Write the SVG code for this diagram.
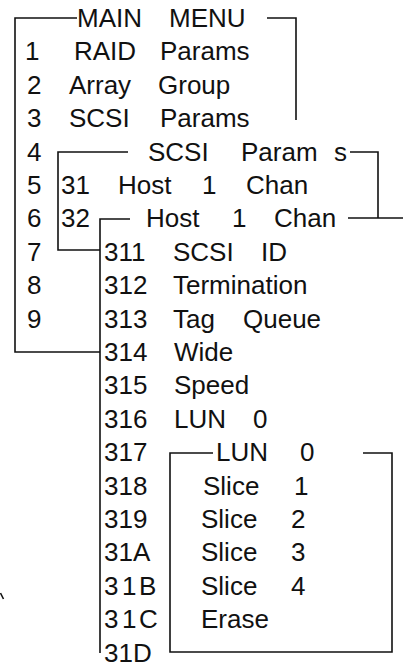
<svg xmlns="http://www.w3.org/2000/svg" width="403" height="668" viewBox="0 0 403 668">
<style>
  text { font-family: "Liberation Sans", Arial, sans-serif; font-size: 26px; fill: #111; }
  .ln { fill: none; stroke: #111; stroke-width: 1.6; }
</style>
<rect width="403" height="668" fill="#fff"/>
<g id="connectors">
  <polyline class="ln" points="77,18 15,18 15,352 100,352"/>
  <polyline class="ln" points="267,18 296,18 296,120"/>
  <polyline class="ln" points="128,152 58,152 58,250 100,250"/>
  <polyline class="ln" points="350,152 378,152 378,218"/>
  <polyline class="ln" points="130,219 100,219 100,653"/>
  <line class="ln" x1="348" y1="218" x2="403" y2="218"/>
  <polyline class="ln" points="213,453 170,453 170,652 392,652 392,453 363,453"/>
  <line class="ln" x1="0.5" y1="593" x2="3.5" y2="599"/>
</g>
<g id="main-menu">
  <text y="27"><tspan x="77">MAIN</tspan><tspan x="169">MENU</tspan></text>
  <text y="60.4"><tspan x="25">1</tspan><tspan x="74">RAID</tspan><tspan x="160">Params</tspan></text>
  <text y="93.8"><tspan x="27">2</tspan><tspan x="69">Array</tspan><tspan x="158">Group</tspan></text>
  <text y="127.2"><tspan x="27">3</tspan><tspan x="69">SCSI</tspan><tspan x="160">Params</tspan></text>
  <text y="160.6" x="27">4</text>
  <text y="194" x="27">5</text>
  <text y="227.4" x="27">6</text>
  <text y="260.8" x="27">7</text>
  <text y="294.2" x="27">8</text>
  <text y="327.6" x="27">9</text>
</g>
<g id="scsi-params">
  <text y="160.6"><tspan x="148">SCSI</tspan><tspan x="241">Param</tspan><tspan x="334">s</tspan></text>
  <text y="194"><tspan x="61">31</tspan><tspan x="118">Host</tspan><tspan x="202">1</tspan><tspan x="246">Chan</tspan></text>
  <text y="227.4" x="61">32</text>
</g>
<g id="host-chan">
  <text y="227.4"><tspan x="146">Host</tspan><tspan x="232">1</tspan><tspan x="274">Chan</tspan></text>
  <text y="260.8"><tspan x="104">311</tspan><tspan x="173">SCSI</tspan><tspan x="261">ID</tspan></text>
  <text y="294.2"><tspan x="104">312</tspan><tspan x="173">Termination</tspan></text>
  <text y="327.6"><tspan x="104">313</tspan><tspan x="173">Tag</tspan><tspan x="243">Queue</tspan></text>
  <text y="361"><tspan x="104">314</tspan><tspan x="174">Wide</tspan></text>
  <text y="394.4"><tspan x="104">315</tspan><tspan x="174">Speed</tspan></text>
  <text y="427.8"><tspan x="104">316</tspan><tspan x="174">LUN</tspan><tspan x="253">0</tspan></text>
  <text y="461.2" x="104">317</text>
  <text y="494.6" x="104">318</text>
  <text y="528" x="104">319</text>
  <text y="561.4" x="104">31A</text>
  <text y="594.8"><tspan x="104">3</tspan><tspan x="122">1</tspan><tspan x="139">B</tspan></text>
  <text y="628.2"><tspan x="104">3</tspan><tspan x="122">1</tspan><tspan x="139">C</tspan></text>
  <text y="661.6" x="104">31D</text>
</g>
<g id="lun0">
  <text y="461.2"><tspan x="216">LUN</tspan><tspan x="300">0</tspan></text>
  <text y="494.6"><tspan x="203">Slice</tspan><tspan x="294">1</tspan></text>
  <text y="528"><tspan x="201">Slice</tspan><tspan x="291">2</tspan></text>
  <text y="561.4"><tspan x="201">Slice</tspan><tspan x="291">3</tspan></text>
  <text y="594.8"><tspan x="201">Slice</tspan><tspan x="291">4</tspan></text>
  <text y="628.2" x="201">Erase</text>
</g>
</svg>
